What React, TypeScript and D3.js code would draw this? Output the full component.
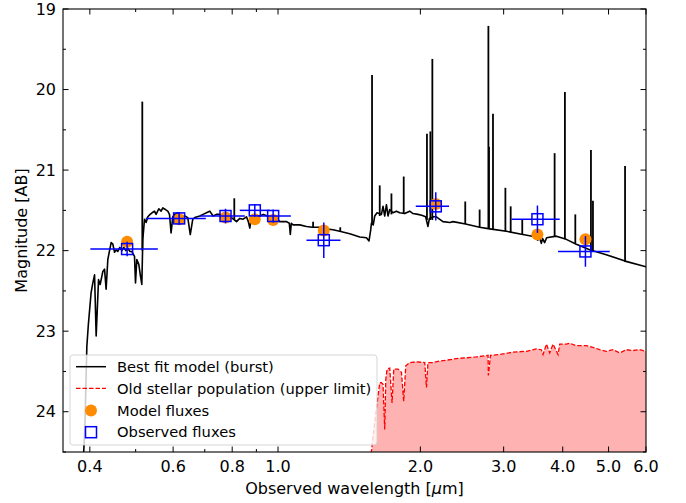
import React from "react";
import * as d3 from "d3";

// ---------- data ----------
// Best fit model (burst): continuum + absorption features
const burstWavelength = [
  0.3875, 0.3904, 0.3942, 0.3971, 0.4025, 0.4059, 0.4093, 0.4125, 0.4173, 0.4206,
  0.4261, 0.4297, 0.433, 0.4366, 0.4437, 0.4474, 0.4511, 0.4546, 0.4584, 0.4629,
  0.4674, 0.472, 0.4766, 0.4812, 0.486, 0.4907, 0.4972, 0.4996, 0.5028, 0.5077,
  0.5114, 0.5152, 0.5177, 0.522, 0.5261, 0.5304, 0.5364, 0.5416, 0.548, 0.5523,
  0.5596, 0.5659, 0.5706, 0.5781, 0.5847, 0.5895, 0.5941, 0.5991, 0.6049, 0.6147,
  0.625, 0.6351, 0.6444, 0.6523, 0.6603, 0.6668, 0.6832, 0.6943, 0.7058, 0.7173,
  0.7289, 0.741, 0.753, 0.7652, 0.778, 0.7972, 0.817, 0.8302, 0.8437, 0.8577,
  0.8653, 0.8716, 0.878, 0.8857, 0.9153, 0.9301, 0.9609, 0.9765, 0.9928, 1.0087,
  1.0251, 1.0422, 1.0565, 1.0616, 1.0668, 1.0762, 1.1118, 1.1485, 1.1816, 1.1902,
  1.2254, 1.2617, 1.3073, 1.3506, 1.418, 1.4887, 1.5381, 1.5576, 1.5706, 1.5759,
  1.5898, 1.6015, 1.6195, 1.6545, 1.6675, 1.6813, 1.6953, 1.7086, 1.7228, 1.7507,
  1.7799, 1.8086, 1.8532, 1.8987, 1.9294, 1.9769, 2.0127, 2.0521, 2.0752, 2.09,
  2.1336, 2.1618, 2.232, 2.3083, 2.3457, 2.4921, 2.669, 2.8029, 3.0403, 3.2942,
  3.5177, 3.54, 3.5746, 3.6043, 3.6272, 3.6627, 3.6986, 3.877, 4.0704, 4.2735,
  4.5603, 4.9441, 5.4181, 6.0,
];
const burstMagnitude = [
  24.59, 24.22, 23.19, 22.92, 22.52, 22.4, 22.3, 23.06, 22.36, 22.42,
  22.26, 22.23, 22.48, 22.11, 21.9, 21.92, 22.02, 21.99, 22.01, 21.96,
  22.0, 21.96, 22.0, 21.97, 22.01, 22.01, 22.07, 22.4, 22.11, 22.17,
  22.3, 22.42, 21.86, 21.61, 21.65, 21.58, 21.55, 21.53, 21.51, 21.55,
  21.48, 21.51, 21.47, 21.49, 21.51, 21.55, 21.78, 21.58, 21.55, 21.53,
  21.59, 21.57, 21.59, 21.8, 21.61, 21.59, 21.57, 21.55, 21.53, 21.51,
  21.57, 21.55, 21.55, 21.57, 21.59, 21.59, 21.64, 21.6, 21.61, 21.58,
  21.64, 21.72, 21.6, 21.59, 21.57, 21.55, 21.58, 21.61, 21.6, 21.64,
  21.64, 21.64, 21.66, 21.8, 21.66, 21.68, 21.68, 21.7, 21.71, 21.71,
  21.71, 21.73, 21.74, 21.76, 21.79, 21.83, 21.84, 21.88, 21.74, 21.66,
  21.68, 21.57, 21.53, 21.55, 21.45, 21.57, 21.43, 21.57, 21.49, 21.53,
  21.51, 21.53, 21.54, 21.51, 21.54, 21.55, 21.56, 21.58, 21.7, 21.6,
  21.58, 21.58, 21.64, 21.65, 21.64, 21.67, 21.71, 21.73, 21.76, 21.8,
  21.83, 21.87, 21.84, 21.91, 21.85, 21.9, 21.84, 21.82, 21.86, 21.92,
  21.99, 22.05, 22.13, 22.2,
];
// emission lines of the burst model: wavelength, peak magnitude, base magnitude
const lineWavelength = [
  0.5164, 0.8082, 1.1862, 1.3539, 1.5806, 1.6409, 1.7371, 1.8442, 2.0651, 2.0996,
  2.1201, 2.4884, 2.669, 2.7852, 2.7934, 2.8483, 3.0256, 3.1046, 3.2846, 3.8451,
  4.0428, 4.2527, 4.5892, 4.6341, 5.4181,
];
const linePeakMag = [
  20.15, 21.35, 21.64, 21.71, 19.82, 21.19, 21.29, 21.08, 20.55, 20.52,
  19.62, 21.39, 21.49, 19.21, 20.71, 20.3, 21.22, 21.45, 21.61, 20.79,
  20.03, 21.55, 20.75, 21.38, 20.95,
];
const lineBaseMag = [
  22.0, 21.62, 21.71, 21.76, 21.66, 21.57, 21.55, 21.54, 21.62, 21.62,
  21.62, 21.67, 21.71, 21.72, 21.72, 21.73, 21.76, 21.77, 21.8, 21.83,
  21.86, 21.91, 22.0, 22.0, 22.14,
];

// Old stellar population (upper limit)
const oldWavelength = [
  1.57, 1.5759, 1.6015, 1.6277, 1.6409, 1.6545, 1.6675, 1.6813, 1.6899, 1.7006,
  1.7228, 1.7425, 1.757, 1.7942, 1.8241, 1.8442, 1.8627, 1.8987, 1.9623, 2.0432,
  2.0602, 2.0752, 2.1274, 2.198, 2.2709, 2.3842, 2.5031, 2.628, 2.7808, 2.7852,
  2.8135, 2.9438, 3.1405, 3.3522, 3.5177, 3.6043, 3.6345, 3.6951, 3.755, 3.8158,
  3.9096, 3.942, 4.0704, 4.1389, 4.2735, 4.4893, 4.6341, 4.7894, 4.9441, 5.1106,
  5.28, 5.4543, 5.6325, 5.8192, 6.0,
];
const oldMagnitude = [
  24.6, 24.49, 24.13, 23.8, 23.64, 23.64, 23.66, 24.22, 23.6, 23.47,
  23.46, 23.89, 23.47, 23.47, 23.51, 23.87, 23.43, 23.39, 23.38, 23.39,
  23.7, 23.39, 23.39, 23.37, 23.36, 23.34, 23.33, 23.32, 23.3, 23.55,
  23.3, 23.29, 23.26, 23.25, 23.22, 23.23, 23.29, 23.16, 23.27, 23.16,
  23.29, 23.16, 23.16, 23.15, 23.18, 23.18, 23.2, 23.23, 23.25, 23.23,
  23.27, 23.23, 23.24, 23.23, 23.25,
];

// photometry
const bandWavelength = [0.4796, 0.6178, 0.7744, 0.8931, 0.9765, 1.2496, 2.1557, 3.5366, 4.4675];
const bandMin = [0.401, 0.5254, 0.6832, 0.83, 0.9063, 1.1485, 1.9556, 3.1162, 3.9096];
const bandMax = [0.557, 0.7036, 0.8507, 0.961, 1.0642, 1.3554, 2.2999, 3.942, 5.0287];
const observedMag = [21.98, 21.6, 21.57, 21.5, 21.57, 21.87, 21.45, 21.61, 22.01];
const observedErr = [0.09, 0.08, 0.09, 0.08, 0.08, 0.22, 0.175, 0.17, 0.19];
const modelFluxMag = [21.89, 21.61, 21.59, 21.61, 21.62, 21.75, 21.42, 21.8, 21.86];

const xMajorTicks = [0.4, 0.6, 0.8, 1.0, 2.0, 3.0, 4.0, 5.0, 6.0];
const xMajorLabels = ["0.4", "0.6", "0.8", "1.0", "2.0", "3.0", "4.0", "5.0", "6.0"];
const xMinorTicks = [0.5, 0.7, 0.9];
const yMajorTicks = [19, 20, 21, 22, 23, 24];
const yMinorTicks = [19.5, 20.5, 21.5, 22.5, 23.5, 24.5];

const legendLabels = [
  "Best fit model (burst)",
  "Old stellar population (upper limit)",
  "Model fluxes",
  "Observed fluxes",
];

// ---------- layout ----------
const W = 686;
const H = 503;
const L = 63;
const R = 646;
const T = 9;
const B = 452;
const FONT = "DejaVu Sans, sans-serif";

export default function App() {
  const x = d3.scaleLog().domain([0.351, 6.0]).range([L, R]);
  const y = d3.scaleLinear().domain([19, 24.5]).range([T, B]);

  const burst = burstWavelength.map((w, i) => [w, burstMagnitude[i]] as [number, number]);
  const old = oldWavelength.map((w, i) => [w, oldMagnitude[i]] as [number, number]);

  const line = d3
    .line<[number, number]>()
    .x((d) => x(d[0]))
    .y((d) => y(d[1]));
  const area = d3
    .area<[number, number]>()
    .x((d) => x(d[0]))
    .y0(B + 20)
    .y1((d) => y(d[1]));

  const majLen = 5.5;
  const minLen = 3;
  const blue = "#0000ff";
  const orange = "#ff8c00";
  const sq = 11;

  const legX = 70;
  const legY = 355;
  const legW = 307;
  const legH = 90;
  const rowY = [366.7, 388.3, 410.5, 432.2];

  return (
    <svg
      width={W}
      height={H}
      style={{ position: "absolute", left: 0, top: 0, background: "#fff" }}
      fontFamily={FONT}
    >
      <defs>
        <clipPath id="plotclip">
          <rect x={L} y={T} width={R - L} height={B - T} />
        </clipPath>
      </defs>
      <rect x={0} y={0} width={W} height={H} fill="#fff" />

      <g clipPath="url(#plotclip)">
        {/* old stellar population */}
        <path d={area(old) ?? ""} fill="#ff0000" fillOpacity={0.3} stroke="none" />
        <path
          d={line(old) ?? ""}
          fill="none"
          stroke="#ff0000"
          strokeWidth={1.3}
          strokeDasharray="4.5,2"
        />
        {/* burst model */}
        <path
          d={line(burst) ?? ""}
          fill="none"
          stroke="#000"
          strokeWidth={1.6}
          strokeLinejoin="round"
        />
        {lineWavelength.map((w, i) => (
          <line
            key={"el" + i}
            x1={x(w)}
            x2={x(w)}
            y1={y(lineBaseMag[i])}
            y2={y(linePeakMag[i])}
            stroke="#000"
            strokeWidth={1.8}
          />
        ))}
        {/* model fluxes */}
        {bandWavelength.map((w, i) => (
          <circle key={"mf" + i} cx={x(w)} cy={y(modelFluxMag[i])} r={6} fill={orange} />
        ))}
        {/* observed fluxes */}
        {bandWavelength.map((w, i) => (
          <g key={"ob" + i} stroke={blue} strokeWidth={1.5} fill="none">
            <line x1={x(bandMin[i])} x2={x(bandMax[i])} y1={y(observedMag[i])} y2={y(observedMag[i])} />
            <line
              x1={x(w)}
              x2={x(w)}
              y1={y(observedMag[i] - observedErr[i])}
              y2={y(observedMag[i] + observedErr[i])}
            />
            <rect x={x(w) - sq / 2} y={y(observedMag[i]) - sq / 2} width={sq} height={sq} />
          </g>
        ))}
      </g>

      {/* ticks */}
      <g stroke="#000" strokeWidth={1}>
        {xMajorTicks.map((t, i) => (
          <g key={"xt" + i}>
            <line x1={x(t)} x2={x(t)} y1={B} y2={B - majLen} />
            <line x1={x(t)} x2={x(t)} y1={T} y2={T + majLen} />
          </g>
        ))}
        {xMinorTicks.map((t, i) => (
          <g key={"xm" + i}>
            <line x1={x(t)} x2={x(t)} y1={B} y2={B - minLen} />
            <line x1={x(t)} x2={x(t)} y1={T} y2={T + minLen} />
          </g>
        ))}
        {yMajorTicks.map((t, i) => (
          <g key={"yt" + i}>
            <line x1={L} x2={L + majLen} y1={y(t)} y2={y(t)} />
            <line x1={R} x2={R - majLen} y1={y(t)} y2={y(t)} />
          </g>
        ))}
        {yMinorTicks.map((t, i) => (
          <g key={"ym" + i}>
            <line x1={L} x2={L + minLen} y1={y(t)} y2={y(t)} />
            <line x1={R} x2={R - minLen} y1={y(t)} y2={y(t)} />
          </g>
        ))}
      </g>

      {/* frame */}
      <rect x={L} y={T} width={R - L} height={B - T} fill="none" stroke="#000" strokeWidth={1.1} />

      {/* tick labels */}
      <g fontSize={16} fill="#000">
        {xMajorTicks.map((t, i) => (
          <text key={"xl" + i} x={x(t)} y={471.5} textAnchor="middle">
            {xMajorLabels[i]}
          </text>
        ))}
        {yMajorTicks.map((t, i) => (
          <text key={"yl" + i} x={56} y={y(t)} dy="0.36em" textAnchor="end">
            {String(t)}
          </text>
        ))}
      </g>

      {/* axis labels */}
      <text x={(L + R) / 2} y={494} textAnchor="middle" fontSize={16}>
        Observed wavelength [<tspan fontStyle="italic">μ</tspan>m]
      </text>
      <text
        transform={`translate(27,${(T + B) / 2}) rotate(-90)`}
        textAnchor="middle"
        fontSize={16}
      >
        Magnitude [AB]
      </text>

      {/* legend */}
      <g>
        <rect
          x={legX}
          y={legY}
          width={legW}
          height={legH}
          rx={3}
          fill="#fff"
          fillOpacity={0.8}
          stroke="#cccccc"
          strokeOpacity={0.8}
          strokeWidth={1}
        />
        <line x1={76} x2={106} y1={rowY[0]} y2={rowY[0]} stroke="#000" strokeWidth={1.5} />
        <line
          x1={76}
          x2={106}
          y1={rowY[1]}
          y2={rowY[1]}
          stroke="#ff0000"
          strokeWidth={1.3}
          strokeDasharray="4.5,2"
        />
        <circle cx={91} cy={rowY[2]} r={6} fill={orange} />
        <rect x={91 - sq / 2} y={rowY[3] - sq / 2} width={sq} height={sq} fill="none" stroke={blue} strokeWidth={1.5} />
        {legendLabels.map((s, i) => (
          <text key={"lg" + i} x={117} y={rowY[i]} dy="0.36em" fontSize={14.7} fill="#000">
            {s}
          </text>
        ))}
      </g>
    </svg>
  );
}
